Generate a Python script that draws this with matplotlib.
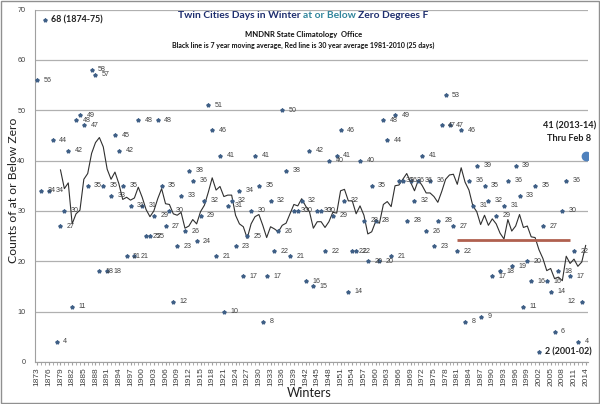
import matplotlib
matplotlib.use("Agg")
import matplotlib.pyplot as plt
import numpy as np
import pandas as pd

years = list(range(1873, 2015))
counts = [
    56, 34, 68, 34, 44, 4, 27, 30, 42, 11,      # 1873-1882
    48, 49, 47, 35, 58, 57, 18, 35, 18, 33,     # 1883-1892
    45, 42, 35, 21, 31, 21, 48, 31, 25, 25,     # 1893-1902
    29, 48, 35, 27, 30, 12, 23, 33, 26, 38,     # 1903-1912
    36, 24, 29, 32, 51, 46, 21, 41, 10, 31,     # 1913-1922
    32, 23, 34, 17, 25, 30, 41, 35, 8, 17,      # 1923-1932
    32, 22, 26, 50, 38, 21, 30, 30, 32, 16,     # 1933-1942
    42, 15, 30, 30, 22, 40, 29, 41, 46, 32,     # 1943-1952
    14, 22, 22, 40, 28, 20, 35, 28, 20, 48,     # 1953-1962
    44, 21, 49, 36, 36, 28, 36, 32, 36, 41,     # 1963-1972
    26, 36, 23, 28, 47, 53, 47, 27, 22, 46,     # 1973-1982
    8, 36, 31, 39, 9, 35, 32, 17, 29, 18,       # 1983-1992
    31, 36, 19, 39, 33, 11, 20, 16, 35, 2,      # 1993-2002
    27, 16, 14, 6, 18, 30, 36, 17, 22, 4,       # 2003-2012
    12, 41,                                     # 2013-2014
]
tick_years = list(range(1873, 2015, 3))
avg_start, avg_end, avg_value = 1981, 2010, 24.3
ma_window = 7

special_labels = {1875: "68 (1874-75)", 2002: "2 (2001-02)"}
left_labels = {2013}
current_year = 2014
current_text = "41 (2013-14)\nThru Feb 8"

W, H = 600, 404
fig = plt.figure(figsize=(W/100, H/100), dpi=100)
ax = fig.add_axes([35/W, 1-362/H, (588-35)/W, (362-9.5)/H])

x = np.array(years)
y = np.array(counts, dtype=float)
ma = pd.Series(y).rolling(ma_window).mean().values

ax.set_xlim(1873 - 0.55, 2014 + 0.6)
ax.set_ylim(0, 70)
ax.set_yticks(range(0, 71, 10))
ax.grid(axis="y", color="#b0b0b0", linewidth=0.9)
ax.set_axisbelow(True)
for s in ["top", "right"]:
    ax.spines[s].set_visible(False)
ax.spines["left"].set_color("#a0a0a0")
ax.spines["bottom"].set_color("#a0a0a0")

ax.set_xticks(tick_years)
ax.set_xticklabels([str(t) for t in tick_years], rotation=90, fontsize=6.0,
                   family="Liberation Sans", color="#404040")
ax.set_xticks(years, minor=True)
ax.tick_params(axis="x", which="both", length=2.5, color="#a0a0a0", pad=1.5)
ax.tick_params(axis="y", length=0, labelsize=5.2, labelcolor="#404040", pad=7)
for lab in ax.get_yticklabels():
    lab.set_family("Liberation Sans")

mask = x != current_year
ax.plot(x[mask], y[mask], linestyle="none", marker="*", markersize=2.8,
        color="#3f5f86", zorder=3)
ax.plot(x[~mask], y[~mask], linestyle="none", marker="o", markersize=6.0,
        color="#4f81bd", zorder=4)
ax.plot(x, ma, color="#303030", linewidth=0.8, zorder=2)
ax.hlines(avg_value, avg_start, avg_end, color="#b0604f", linewidth=2.0, zorder=2)

for yr, v in zip(years, counts):
    if yr == current_year:
        continue
    if yr in special_labels:
        ax.annotate(special_labels[yr], (yr, v), xytext=(6.5, 0), textcoords="offset pixels",
                    fontsize=6.4, fontweight="bold", family="Lato", color="#202020",
                    va="center", ha="left")
    elif yr in left_labels:
        ax.annotate(str(v), (yr, v), xytext=(-6.5, 0), textcoords="offset pixels",
                    fontsize=5.1, family="Liberation Sans", color="#404040",
                    va="center", ha="right")
    else:
        ax.annotate(str(v), (yr, v), xytext=(6.5, 0), textcoords="offset pixels",
                    fontsize=5.1, family="Liberation Sans", color="#404040",
                    va="center", ha="left")

ax.text(2009.8, 45.6, current_text, fontsize=6.6, fontweight="bold", ha="center", va="center",
        multialignment="center", color="#202020", linespacing=1.45, family="Lato")

fig.canvas.draw()
renderer = fig.canvas.get_renderer()


def fit(t, target, vertical=False):
    bb = t.get_window_extent(renderer)
    size = bb.height if vertical else bb.width
    t.set_fontsize(t.get_fontsize() * target / size)


def text_width(s, size):
    t = fig.text(0, 0, s, fontsize=size, fontweight="bold", family="Lato")
    w = t.get_window_extent(renderer).width
    t.remove()
    return w


parts = [("Twin Cities Days in Winter ", "#1f2f6f"), ("at or Below ", "#31859c"),
         ("Zero Degrees F", "#1f2f6f")]
full = "".join(p for p, _ in parts)
base = 10.0
size = base * 250 / text_width(full, base)
ref_w = text_width("|", size)
x0 = 303 - text_width(full, size) / 2
prefix = ""
for s, c in parts:
    off = text_width(prefix + "|", size) - ref_w if prefix else 0.0
    fig.text((x0 + off) / W, 1 - 16/H, s, fontsize=size, fontweight="bold", family="Lato",
             color=c, ha="left", va="center")
    prefix += s

t2 = fig.text(303.5/W, 1 - 34/H, "MNDNR State Climatology  Office", fontsize=8,
              fontweight="bold", family="Lato", ha="center", va="center", color="#101010")
fit(t2, 117)
t3 = fig.text(303/W, 1 - 45/H,
              "Black line is 7 year moving average, Red line is 30 year average 1981-2010 (25 days)",
              fontsize=6, fontweight="bold", family="Lato", ha="center", va="center",
              color="#101010")
fit(t3, 264)

t4 = fig.text(13.5/W, 1 - 190/H, "Counts of at or Below Zero", rotation=90, fontsize=8,
              family="Lato", ha="center", va="center", color="#202020")
fit(t4, 145, vertical=True)
t5 = fig.text(309.5/W, 1 - 393/H, "Winters", fontsize=9, family="Lato", ha="center",
              va="center", color="#202020")
fit(t5, 45)

fig.patches.append(plt.Rectangle((0.002, 0.002), 0.996, 0.996, transform=fig.transFigure,
                                 fill=False, edgecolor="#909090", linewidth=1.0))

fig.savefig("out.png", dpi=100)
